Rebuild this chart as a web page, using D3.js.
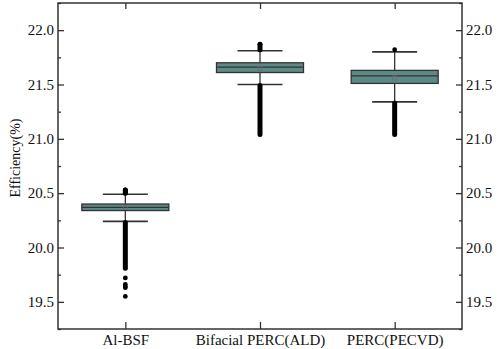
<!DOCTYPE html>
<html><head><meta charset="utf-8">
<script src="https://cdn.jsdelivr.net/npm/d3@7"></script>
<style>body{margin:0;background:#fff}svg{display:block}</style>
</head><body><svg id="c" width="500" height="349"></svg>
<script>
const categories = ["Al-BSF", "Bifacial PERC(ALD)", "PERC(PECVD)"];
const q1 = [20.34, 21.61, 21.51];
const median = [20.37, 21.66, 21.58];
const q3 = [20.40, 21.70, 21.63];
const whiskerLow = [20.24, 21.50, 21.34];
const whiskerHigh = [20.49, 21.81, 21.80];
const means = [20.37, 21.65, 21.56];
// isolated outliers
const outlierPoints = [
  [20.50, 20.51, 20.52, 20.53, 19.72, 19.66, 19.64, 19.63, 19.55],
  [21.87],
  [21.82]
];
// densely packed outliers read as continuous columns [from, to]
const outlierRanges = [
  [[19.81, 20.23], [20.50, 20.53]],
  [[21.04, 21.49], [21.82, 21.87]],
  [[21.04, 21.33]]
];
const yTicks = [19.5, 20.0, 20.5, 21.0, 21.5, 22.0];
const yMinorTicks = [19.25, 19.75, 20.25, 20.75, 21.25, 21.75, 22.25];

const L = 58, R = 462, T = 3, B = 329;
const svg = d3.select("#c");
const x = d3.scaleLinear().domain([0.5, 3.5]).range([L, R]);
const y = d3.scaleLinear().domain([19.25, 22.25]).range([B, T]);
const font = "'Liberation Serif','Times New Roman',serif";
const dark = "#333";

function styleAxis(g){
  g.select(".domain").remove();
  g.selectAll("line").attr("stroke", dark).attr("stroke-width", 1.3);
  g.selectAll("text").attr("font-family", font).attr("font-size", 15).attr("fill", "#111");
}
// left axis
svg.append("g").attr("transform", `translate(${L},0)`)
  .call(d3.axisLeft(y).tickValues(yTicks).tickFormat(d3.format(".1f")).tickSizeInner(-6).tickSizeOuter(0).tickPadding(4))
  .call(styleAxis);
svg.append("g").attr("transform", `translate(${L},0)`)
  .call(d3.axisLeft(y).tickValues(yMinorTicks).tickFormat("").tickSizeInner(-3).tickSizeOuter(0))
  .call(styleAxis);
// right axis
svg.append("g").attr("transform", `translate(${R},0)`)
  .call(d3.axisRight(y).tickValues(yTicks).tickFormat(d3.format(".1f")).tickSizeInner(-6).tickSizeOuter(0).tickPadding(4))
  .call(styleAxis);
svg.append("g").attr("transform", `translate(${R},0)`)
  .call(d3.axisRight(y).tickValues(yMinorTicks).tickFormat("").tickSizeInner(-3).tickSizeOuter(0))
  .call(styleAxis);
// bottom axis
svg.append("g").attr("transform", `translate(0,${B})`)
  .call(d3.axisBottom(x).tickValues([1,2,3]).tickFormat((d,i)=>categories[i]).tickSizeInner(-7).tickSizeOuter(0).tickPadding(5))
  .call(styleAxis);
// top axis
svg.append("g").attr("transform", `translate(0,${T})`)
  .call(d3.axisTop(x).tickValues([1,2,3]).tickFormat("").tickSizeInner(-6).tickSizeOuter(0))
  .call(styleAxis);
// frame
svg.append("rect").attr("x", L).attr("y", T).attr("width", R-L).attr("height", B-T)
  .attr("fill", "none").attr("stroke", dark).attr("stroke-width", 1.5);

// y label
svg.append("text").attr("transform", `translate(20,${(T+B)/2 - 8}) rotate(-90)`)
  .attr("text-anchor", "middle").attr("font-family", font).attr("font-size", 14).attr("fill", "#111")
  .text("Efficiency(%)");

const boxW = x(1.5) - x(0.5);
const bw = 87 / boxW, cw = 45 / boxW;
categories.forEach((c, i) => {
  const cx = x(i+1);
  const half = (x(i+1 + bw/2) - x(i+1));
  const chalf = (x(i+1 + cw/2) - x(i+1));
  const g = svg.append("g");
  // whisker line
  g.append("line").attr("x1", cx).attr("x2", cx).attr("y1", y(whiskerLow[i])).attr("y2", y(whiskerHigh[i]))
    .attr("stroke", dark).attr("stroke-width", 1.3);
  // caps
  [whiskerLow[i], whiskerHigh[i]].forEach(v => {
    g.append("line").attr("x1", cx - chalf).attr("x2", cx + chalf).attr("y1", y(v)).attr("y2", y(v))
      .attr("stroke", dark).attr("stroke-width", 1.6);
  });
  // box
  g.append("rect").attr("x", cx - half).attr("width", 2*half)
    .attr("y", y(q3[i])).attr("height", y(q1[i]) - y(q3[i]))
    .attr("fill", "#5b8a87").attr("stroke", dark).attr("stroke-width", 1.3);
  g.append("line").attr("x1", cx - half).attr("x2", cx + half).attr("y1", y(median[i])).attr("y2", y(median[i]))
    .attr("stroke", dark).attr("stroke-width", 1.3);
  // mean marker
  g.append("rect").attr("x", cx - 2).attr("y", y(means[i]) - 2).attr("width", 4).attr("height", 4)
    .attr("fill", "none").attr("stroke", "#6d6d6d").attr("stroke-width", 0.8);
  // dense outlier columns
  outlierRanges[i].forEach(r => {
    g.append("line").attr("x1", cx).attr("x2", cx).attr("y1", y(r[0])).attr("y2", y(r[1]))
      .attr("stroke", "#000").attr("stroke-width", 5).attr("stroke-linecap", "round");
  });
  // isolated outliers
  outlierPoints[i].forEach(v => {
    g.append("circle").attr("cx", cx).attr("cy", y(v)).attr("r", 2.4).attr("fill", "#000");
  });
});
</script>
</body></html>
